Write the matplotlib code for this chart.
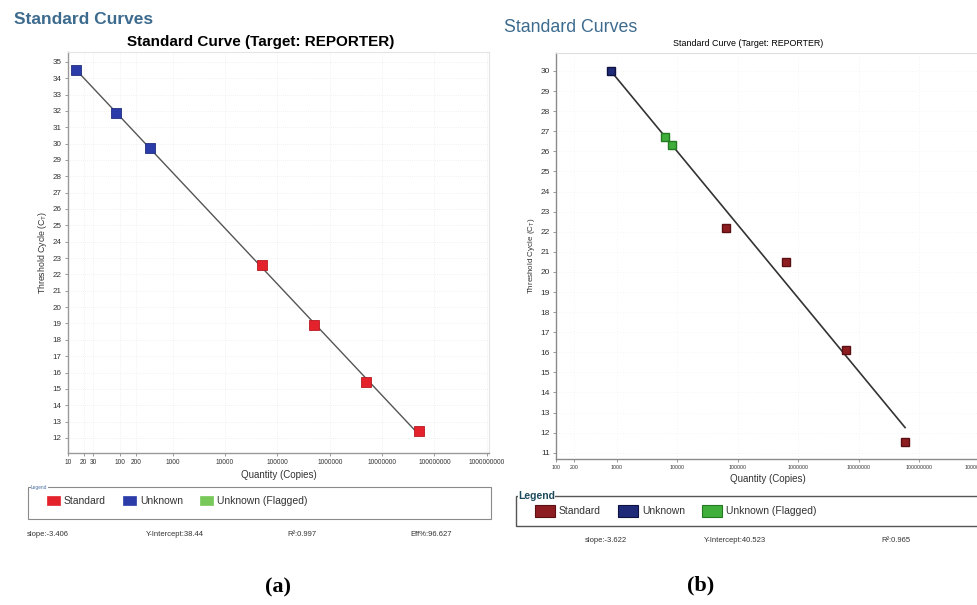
import numpy as np
import matplotlib
matplotlib.use("Agg")
import matplotlib.pyplot as plt
from matplotlib.patches import Rectangle

plt.rcParams['font.family'] = ['Liberation Sans', 'DejaVu Sans']

# ---------------- data ----------------
# Panel (a)
a_unknown_qty = [14.4, 83, 368]
a_unknown_ct = [34.5, 31.9, 29.7]
a_standard_qty = [5.0e4, 5.0e5, 5.0e6, 5.0e7]
a_standard_ct = [22.6, 18.9, 15.4, 12.4]
a_slope, a_intercept, a_r2, a_eff = -3.406, 38.44, 0.997, 96.627
a_xticks = [10, 20, 30, 100, 200, 1000, 10000, 100000, 1000000, 10000000, 100000000, 1000000000]
a_yticks = list(range(12, 36))

# Panel (b)
b_unknown_qty = [800]
b_unknown_ct = [30.0]
b_flagged_qty = [6200, 8100]
b_flagged_ct = [26.7, 26.3]
b_standard_qty = [6.3e4, 6.3e5, 6.2e6, 5.8e7]
b_standard_ct = [22.2, 20.5, 16.1, 11.55]
b_slope, b_intercept, b_r2 = -3.622, 40.523, 0.965
b_xticks = [100, 200, 1000, 10000, 100000, 1000000, 10000000, 100000000, 1000000000]
b_yticks = list(range(11, 31))

legend_labels = ["Standard", "Unknown", "Unknown (Flagged)"]
a_colors = ["#e3222b", "#2b3ca8", "#79c95a"]
b_colors = ["#8e1d22", "#1f2a78", "#3fae3a"]
b_edges = ["#5a0f12", "#0d1240", "#247a22"]

# ---------------- figure ----------------
W, H = 978, 605
fig = plt.figure(figsize=(W / 100, H / 100), dpi=100)

def fx(px):
    return px / W

def fy(py):
    return 1 - py / H

title_blue = "#3d6b8e"

# ======== Panel (a) ========
axa = fig.add_axes([fx(68), fy(453), fx(489 - 68), fy(52) - fy(453)])
axa.set_xscale('log')
axa.set_xlim(10, 1.1e9)
axa.set_ylim(11.08, 35.6)

xs = np.array([min(a_unknown_qty), max(a_standard_qty)])
axa.plot(xs, a_intercept + a_slope * np.log10(xs), color="#555555", lw=1.0, zorder=2)
axa.plot(a_unknown_qty, a_unknown_ct, 's', ms=7.3, color=a_colors[1], mec="#1e2d80", mew=0.6, zorder=3)
axa.plot(a_standard_qty, a_standard_ct, 's', ms=7.3, color=a_colors[0], mec="#b81820", mew=0.6, zorder=3)

axa.set_xticks(a_xticks)
axa.set_xticklabels([str(t) for t in a_xticks], fontsize=4.8, color="#333333")
axa.xaxis.set_minor_locator(matplotlib.ticker.NullLocator())
axa.set_yticks(a_yticks)
axa.set_yticklabels([str(t) for t in a_yticks], fontsize=5.8, color="#333333")
axa.tick_params(length=2.5, width=0.6, color="#888888", pad=2)
axa.grid(True, color="#e6e6e6", lw=0.5, ls=(0, (1, 2)))
for s in ["left", "bottom"]:
    axa.spines[s].set_color("#999999")
    axa.spines[s].set_linewidth(1.0)
for s in ["top", "right"]:
    axa.spines[s].set_color("#e4e4e4")
    axa.spines[s].set_linewidth(0.8)
axa.set_xlabel("Quantity (Copies)", fontsize=7, color="#333333", labelpad=3)
axa.set_ylabel("Threshold Cycle (C$_\\mathregular{T}$)", fontsize=6.3, color="#333333", labelpad=3)

fig.text(fx(261), fy(42), "Standard Curve (Target: REPORTER)", fontsize=11, fontweight='bold',
         ha='center', va='center')
fig.text(fx(14), fy(19), "Standard Curves", fontsize=12.5, fontweight='bold', color=title_blue,
         ha='left', va='center')

# legend (a)
fig.add_artist(Rectangle((fx(28), fy(519)), fx(463), fy(487) - fy(519), transform=fig.transFigure,
                         fill=False, ec="#8a8a8a", lw=0.8))
fig.text(fx(31), fy(487), "Legend", fontsize=3.5, color="#4a6fa5", ha='left', va='center',
         bbox=dict(fc='white', ec='none', pad=0.3))
a_leg_x = [47, 123, 200]
for lx, lab, col in zip(a_leg_x, legend_labels, a_colors):
    fig.add_artist(Rectangle((fx(lx), fy(505)), fx(13), fy(496) - fy(505), transform=fig.transFigure,
                             fc=col, ec=col, lw=0.5))
    fig.text(fx(lx + 17), fy(500.5), lab, fontsize=7.5, color="#333333", ha='left', va='center')

# stats (a)
fig.text(fx(27), fy(534), f"slope:{a_slope}", fontsize=5.5, color="#333333", va='center')
fig.text(fx(146), fy(534), f"Y-Intercept:{a_intercept}", fontsize=5.5, color="#333333", va='center')
fig.text(fx(287), fy(534), f"R²:{a_r2}", fontsize=5.5, color="#333333", va='center')
fig.text(fx(410), fy(534), f"Eff%:{a_eff}", fontsize=5.5, color="#333333", va='center')

fig.text(fx(278), fy(587), "(a)", fontsize=16, fontweight='bold', family='Liberation Serif',
         ha='center', va='center')

# ======== Panel (b) ========
axb = fig.add_axes([fx(556), fy(459), fx(980 - 556), fy(52.7) - fy(459)])
axb.set_xscale('log')
axb.set_xlim(100, 1.0e9)
axb.set_ylim(10.69, 30.91)

xs = np.array([min(b_unknown_qty), max(b_standard_qty)])
axb.plot(xs, b_intercept + b_slope * np.log10(xs) - 0.15 * (np.log10(xs) - np.log10(xs[0])) / (np.log10(xs[1]) - np.log10(xs[0])),
         color="#333333", lw=1.2, zorder=2)
axb.plot(b_unknown_qty, b_unknown_ct, 's', ms=6.2, color=b_colors[1], mec=b_edges[1], mew=1.0, zorder=3)
axb.plot(b_flagged_qty, b_flagged_ct, 's', ms=6.2, color=b_colors[2], mec=b_edges[2], mew=1.0, zorder=3)
axb.plot(b_standard_qty, b_standard_ct, 's', ms=6.2, color=b_colors[0], mec=b_edges[0], mew=1.0, zorder=3)

axb.set_xticks(b_xticks)
axb.set_xticklabels([str(t) for t in b_xticks], fontsize=3.8, color="#333333")
axb.xaxis.set_minor_locator(matplotlib.ticker.NullLocator())
axb.set_yticks(b_yticks)
axb.set_yticklabels([str(t) for t in b_yticks], fontsize=6, color="#333333")
axb.tick_params(length=2.5, width=0.6, color="#888888", pad=2)
axb.grid(True, color="#ececec", lw=0.5, ls=(0, (1, 3)))
for s in ["left", "bottom"]:
    axb.spines[s].set_color("#8a8a8a")
    axb.spines[s].set_linewidth(1.0)
for s in ["top", "right"]:
    axb.spines[s].set_color("#dddddd")
    axb.spines[s].set_linewidth(0.8)
axb.set_xlabel("Quantity (Copies)", fontsize=7, color="#333333", labelpad=3)
axb.set_ylabel("Threshold Cycle (C$_\\mathregular{T}$)", fontsize=5.8, color="#333333", labelpad=2)

fig.text(fx(748), fy(44), "Standard Curve (Target: REPORTER)", fontsize=6.4, ha='center', va='center')
fig.text(fx(504), fy(27), "Standard Curves", fontsize=12.8, color=title_blue, ha='left', va='center')

# legend (b)
fig.add_artist(Rectangle((fx(516), fy(526)), fx(470), fy(496) - fy(526), transform=fig.transFigure,
                         fill=False, ec="#555555", lw=1.0))
fig.text(fx(518), fy(496), "Legend", fontsize=7.5, fontweight='bold', color="#1d4a5c", ha='left', va='center',
         bbox=dict(fc='white', ec='none', pad=0.3))
b_leg_x = [535, 618, 702]
for lx, lab, col, ec in zip(b_leg_x, legend_labels, b_colors, b_edges):
    fig.add_artist(Rectangle((fx(lx), fy(517)), fx(20), fy(505) - fy(517), transform=fig.transFigure,
                             fc=col, ec=ec, lw=0.8))
    fig.text(fx(lx + 24), fy(511), lab, fontsize=7.5, color="#333333", ha='left', va='center')

# stats (b)
fig.text(fx(585), fy(540), f"slope:{b_slope}", fontsize=5.5, color="#333333", va='center')
fig.text(fx(704), fy(540), f"Y-Intercept:{b_intercept}", fontsize=5.5, color="#333333", va='center')
fig.text(fx(881), fy(540), f"R²:{b_r2}", fontsize=5.5, color="#333333", va='center')

fig.text(fx(701), fy(585), "(b)", fontsize=16, fontweight='bold', family='Liberation Serif',
         ha='center', va='center')

fig.savefig("out.png", dpi=100)
